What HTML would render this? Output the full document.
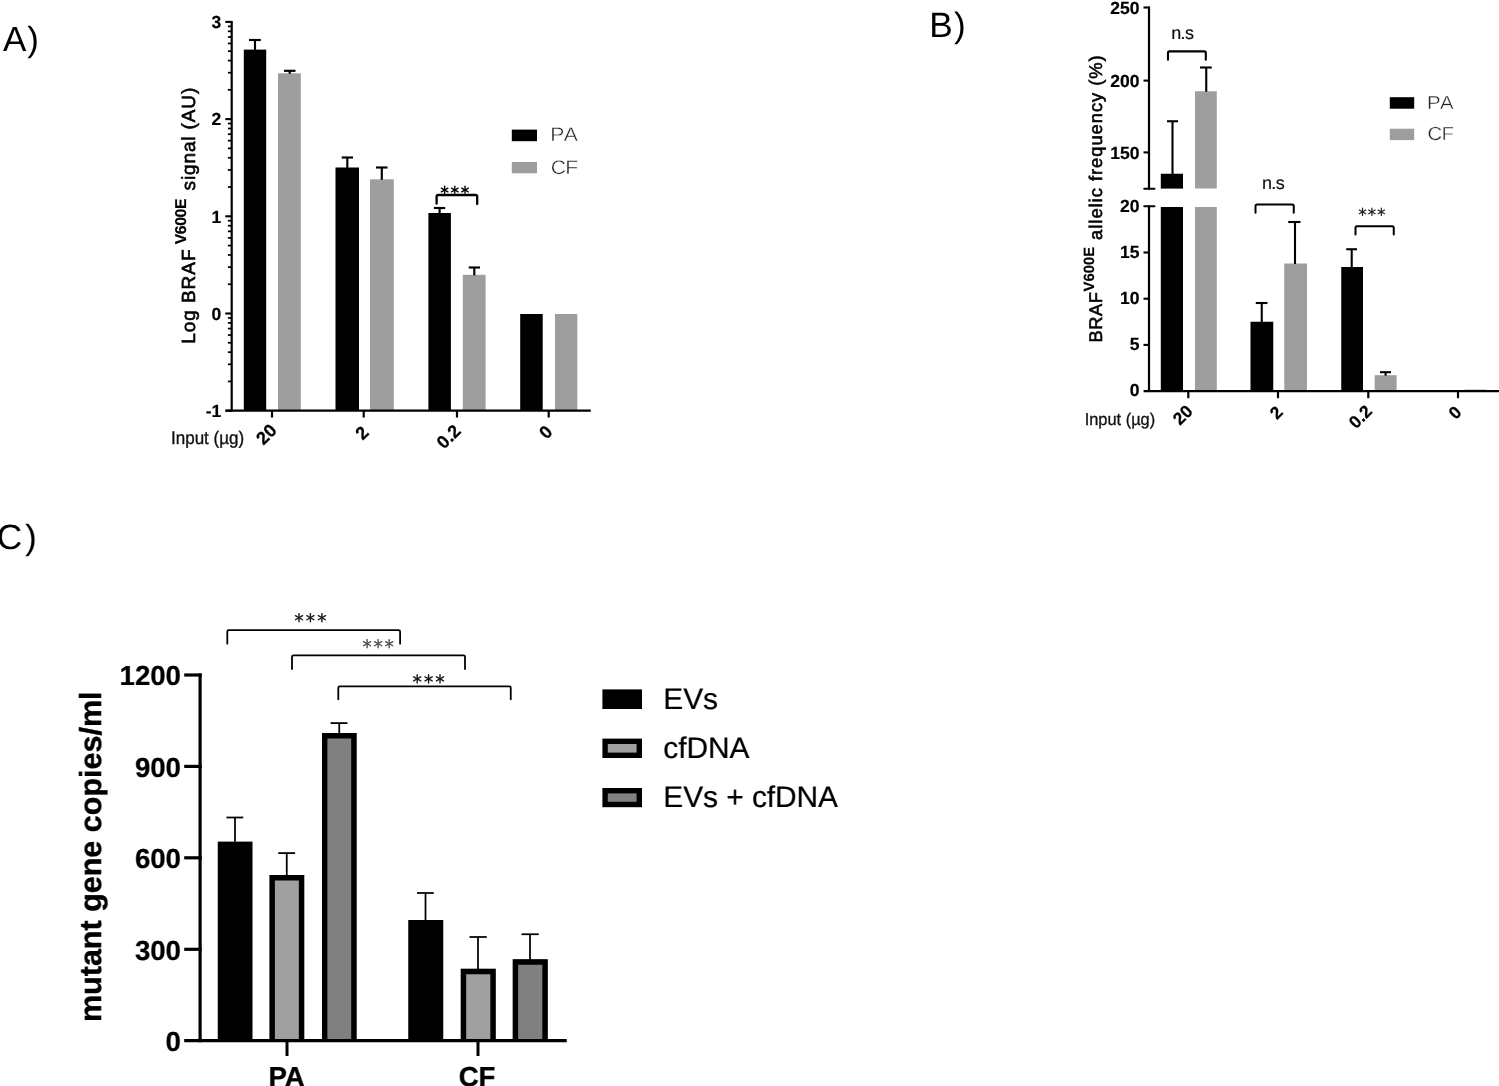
<!DOCTYPE html>
<html lang="en"><head><meta charset="utf-8"><title>Figure</title>
<style>html,body{margin:0;padding:0;background:#fff;}body{width:1499px;height:1086px;overflow:hidden;}svg{display:block;filter:grayscale(1);}text{white-space:pre;text-rendering:geometricPrecision;}</style>
</head><body>
<svg width="1499" height="1086" viewBox="0 0 1499 1086">
<rect x="0" y="0" width="1499" height="1086" fill="#fff"/>
<g id="panelA" style="filter:blur(0.62px)">
<text x="3.00" y="51.40" font-family='"Liberation Sans", sans-serif' font-size="35" font-weight="normal" text-anchor="start" fill="#000" letter-spacing="1.0">A)</text>
<rect x="243.80" y="49.60" width="22.40" height="361.10" fill="#000"/>
<rect x="278.00" y="73.30" width="22.80" height="337.40" fill="#9e9e9e"/>
<rect x="335.50" y="167.50" width="23.50" height="243.20" fill="#000"/>
<rect x="370.00" y="179.30" width="23.80" height="231.40" fill="#9e9e9e"/>
<rect x="428.40" y="213.00" width="22.50" height="197.70" fill="#000"/>
<rect x="462.80" y="274.80" width="22.80" height="135.90" fill="#9e9e9e"/>
<rect x="520.20" y="314.00" width="22.50" height="96.70" fill="#000"/>
<rect x="555.00" y="314.00" width="22.30" height="96.70" fill="#9e9e9e"/>
<line x1="255.00" y1="40.00" x2="255.00" y2="50.10" stroke="#000" stroke-width="2.15" stroke-linecap="butt"/>
<line x1="249.00" y1="40.00" x2="260.80" y2="40.00" stroke="#000" stroke-width="2.15" stroke-linecap="butt"/>
<line x1="289.70" y1="70.80" x2="289.70" y2="73.80" stroke="#000" stroke-width="2.15" stroke-linecap="butt"/>
<line x1="284.00" y1="70.80" x2="295.50" y2="70.80" stroke="#000" stroke-width="2.15" stroke-linecap="butt"/>
<line x1="347.30" y1="157.50" x2="347.30" y2="168.00" stroke="#000" stroke-width="2.15" stroke-linecap="butt"/>
<line x1="341.70" y1="157.50" x2="353.00" y2="157.50" stroke="#000" stroke-width="2.15" stroke-linecap="butt"/>
<line x1="381.80" y1="167.50" x2="381.80" y2="179.80" stroke="#000" stroke-width="2.15" stroke-linecap="butt"/>
<line x1="376.00" y1="167.50" x2="387.50" y2="167.50" stroke="#000" stroke-width="2.15" stroke-linecap="butt"/>
<line x1="439.60" y1="208.00" x2="439.60" y2="213.50" stroke="#000" stroke-width="2.15" stroke-linecap="butt"/>
<line x1="433.90" y1="208.00" x2="445.20" y2="208.00" stroke="#000" stroke-width="2.15" stroke-linecap="butt"/>
<line x1="474.30" y1="267.50" x2="474.30" y2="275.30" stroke="#000" stroke-width="2.15" stroke-linecap="butt"/>
<line x1="468.70" y1="267.50" x2="480.00" y2="267.50" stroke="#000" stroke-width="2.15" stroke-linecap="butt"/>
<line x1="231.70" y1="20.90" x2="231.70" y2="411.80" stroke="#000" stroke-width="2.2" stroke-linecap="butt"/>
<line x1="225.60" y1="410.70" x2="590.80" y2="410.70" stroke="#000" stroke-width="2.3" stroke-linecap="butt"/>
<line x1="225.30" y1="21.90" x2="231.70" y2="21.90" stroke="#000" stroke-width="2.1" stroke-linecap="butt"/>
<line x1="227.90" y1="89.84" x2="231.70" y2="89.84" stroke="#000" stroke-width="1.75" stroke-linecap="butt"/>
<line x1="227.90" y1="72.72" x2="231.70" y2="72.72" stroke="#000" stroke-width="1.75" stroke-linecap="butt"/>
<line x1="227.90" y1="60.58" x2="231.70" y2="60.58" stroke="#000" stroke-width="1.75" stroke-linecap="butt"/>
<line x1="227.90" y1="51.16" x2="231.70" y2="51.16" stroke="#000" stroke-width="1.75" stroke-linecap="butt"/>
<line x1="227.90" y1="43.46" x2="231.70" y2="43.46" stroke="#000" stroke-width="1.75" stroke-linecap="butt"/>
<line x1="227.90" y1="36.96" x2="231.70" y2="36.96" stroke="#000" stroke-width="1.75" stroke-linecap="butt"/>
<line x1="227.90" y1="31.32" x2="231.70" y2="31.32" stroke="#000" stroke-width="1.75" stroke-linecap="butt"/>
<line x1="227.90" y1="26.35" x2="231.70" y2="26.35" stroke="#000" stroke-width="1.75" stroke-linecap="butt"/>
<line x1="225.30" y1="119.10" x2="231.70" y2="119.10" stroke="#000" stroke-width="2.1" stroke-linecap="butt"/>
<line x1="227.90" y1="187.04" x2="231.70" y2="187.04" stroke="#000" stroke-width="1.75" stroke-linecap="butt"/>
<line x1="227.90" y1="169.92" x2="231.70" y2="169.92" stroke="#000" stroke-width="1.75" stroke-linecap="butt"/>
<line x1="227.90" y1="157.78" x2="231.70" y2="157.78" stroke="#000" stroke-width="1.75" stroke-linecap="butt"/>
<line x1="227.90" y1="148.36" x2="231.70" y2="148.36" stroke="#000" stroke-width="1.75" stroke-linecap="butt"/>
<line x1="227.90" y1="140.66" x2="231.70" y2="140.66" stroke="#000" stroke-width="1.75" stroke-linecap="butt"/>
<line x1="227.90" y1="134.16" x2="231.70" y2="134.16" stroke="#000" stroke-width="1.75" stroke-linecap="butt"/>
<line x1="227.90" y1="128.52" x2="231.70" y2="128.52" stroke="#000" stroke-width="1.75" stroke-linecap="butt"/>
<line x1="227.90" y1="123.55" x2="231.70" y2="123.55" stroke="#000" stroke-width="1.75" stroke-linecap="butt"/>
<line x1="225.30" y1="216.30" x2="231.70" y2="216.30" stroke="#000" stroke-width="2.1" stroke-linecap="butt"/>
<line x1="227.90" y1="284.24" x2="231.70" y2="284.24" stroke="#000" stroke-width="1.75" stroke-linecap="butt"/>
<line x1="227.90" y1="267.12" x2="231.70" y2="267.12" stroke="#000" stroke-width="1.75" stroke-linecap="butt"/>
<line x1="227.90" y1="254.98" x2="231.70" y2="254.98" stroke="#000" stroke-width="1.75" stroke-linecap="butt"/>
<line x1="227.90" y1="245.56" x2="231.70" y2="245.56" stroke="#000" stroke-width="1.75" stroke-linecap="butt"/>
<line x1="227.90" y1="237.86" x2="231.70" y2="237.86" stroke="#000" stroke-width="1.75" stroke-linecap="butt"/>
<line x1="227.90" y1="231.36" x2="231.70" y2="231.36" stroke="#000" stroke-width="1.75" stroke-linecap="butt"/>
<line x1="227.90" y1="225.72" x2="231.70" y2="225.72" stroke="#000" stroke-width="1.75" stroke-linecap="butt"/>
<line x1="227.90" y1="220.75" x2="231.70" y2="220.75" stroke="#000" stroke-width="1.75" stroke-linecap="butt"/>
<line x1="225.30" y1="313.50" x2="231.70" y2="313.50" stroke="#000" stroke-width="2.1" stroke-linecap="butt"/>
<line x1="227.90" y1="381.44" x2="231.70" y2="381.44" stroke="#000" stroke-width="1.75" stroke-linecap="butt"/>
<line x1="227.90" y1="364.32" x2="231.70" y2="364.32" stroke="#000" stroke-width="1.75" stroke-linecap="butt"/>
<line x1="227.90" y1="352.18" x2="231.70" y2="352.18" stroke="#000" stroke-width="1.75" stroke-linecap="butt"/>
<line x1="227.90" y1="342.76" x2="231.70" y2="342.76" stroke="#000" stroke-width="1.75" stroke-linecap="butt"/>
<line x1="227.90" y1="335.06" x2="231.70" y2="335.06" stroke="#000" stroke-width="1.75" stroke-linecap="butt"/>
<line x1="227.90" y1="328.56" x2="231.70" y2="328.56" stroke="#000" stroke-width="1.75" stroke-linecap="butt"/>
<line x1="227.90" y1="322.92" x2="231.70" y2="322.92" stroke="#000" stroke-width="1.75" stroke-linecap="butt"/>
<line x1="227.90" y1="317.95" x2="231.70" y2="317.95" stroke="#000" stroke-width="1.75" stroke-linecap="butt"/>
<line x1="225.30" y1="410.70" x2="231.70" y2="410.70" stroke="#000" stroke-width="2.1" stroke-linecap="butt"/>
<text x="221.30" y="28.20" font-family='"Liberation Sans", sans-serif' font-size="17.5" font-weight="bold" text-anchor="end" fill="#000" stroke="#000" stroke-width="0.2">3</text>
<text x="221.30" y="125.40" font-family='"Liberation Sans", sans-serif' font-size="17.5" font-weight="bold" text-anchor="end" fill="#000" stroke="#000" stroke-width="0.2">2</text>
<text x="221.30" y="222.60" font-family='"Liberation Sans", sans-serif' font-size="17.5" font-weight="bold" text-anchor="end" fill="#000" stroke="#000" stroke-width="0.2">1</text>
<text x="221.30" y="319.80" font-family='"Liberation Sans", sans-serif' font-size="17.5" font-weight="bold" text-anchor="end" fill="#000" stroke="#000" stroke-width="0.2">0</text>
<text x="221.30" y="417.00" font-family='"Liberation Sans", sans-serif' font-size="17.5" font-weight="bold" text-anchor="end" fill="#000" stroke="#000" stroke-width="0.2">-1</text>
<line x1="272.00" y1="410.70" x2="272.00" y2="417.50" stroke="#000" stroke-width="2.2" stroke-linecap="butt"/>
<line x1="363.70" y1="410.70" x2="363.70" y2="417.50" stroke="#000" stroke-width="2.2" stroke-linecap="butt"/>
<line x1="457.00" y1="410.70" x2="457.00" y2="417.50" stroke="#000" stroke-width="2.2" stroke-linecap="butt"/>
<line x1="548.70" y1="410.70" x2="548.70" y2="417.50" stroke="#000" stroke-width="2.2" stroke-linecap="butt"/>
<text transform="translate(266.10,434.00) rotate(-45)" x="0" y="6.45" font-family='"Liberation Sans", sans-serif' font-size="18" font-weight="bold" text-anchor="middle" fill="#000" stroke="#000" stroke-width="0.3">20</text>
<text transform="translate(361.60,432.70) rotate(-45)" x="0" y="6.45" font-family='"Liberation Sans", sans-serif' font-size="18" font-weight="bold" text-anchor="middle" fill="#000" stroke="#000" stroke-width="0.3">2</text>
<text transform="translate(448.35,436.40) rotate(-45)" x="0" y="6.45" font-family='"Liberation Sans", sans-serif' font-size="18" font-weight="bold" text-anchor="middle" fill="#000" stroke="#000" stroke-width="0.3">0.2</text>
<text transform="translate(545.40,431.95) rotate(-45)" x="0" y="6.45" font-family='"Liberation Sans", sans-serif' font-size="18" font-weight="bold" text-anchor="middle" fill="#000" stroke="#000" stroke-width="0.3">0</text>
<g transform="translate(171.0,443.6) scale(1,1.07)">
<text x="0.00" y="0.00" font-family='"Liberation Sans", sans-serif' font-size="17" font-weight="normal" text-anchor="start" fill="#111" stroke="#111" stroke-width="0.35">Input (µg)</text>
</g>
<text transform="translate(195.00,343.80) rotate(-90)" x="0" y="0.00" font-family='"Liberation Sans", sans-serif' font-size="19" font-weight="normal" text-anchor="start" fill="#000" stroke="#000" stroke-width="0.6" letter-spacing="0.95">Log BRAF</text>
<text transform="translate(186.30,244.30) rotate(-90)" x="0" y="0.00" font-family='"Liberation Sans", sans-serif' font-size="15.7" font-weight="bold" text-anchor="start" fill="#000" letter-spacing="-0.35" stroke="#000" stroke-width="0.2">V600E</text>
<text transform="translate(195.00,190.40) rotate(-90)" x="0" y="0.00" font-family='"Liberation Sans", sans-serif' font-size="19" font-weight="normal" text-anchor="start" fill="#000" stroke="#000" stroke-width="0.6" letter-spacing="0.87">signal (AU)</text>
<path d="M436.60,203.68 V196.60 Q436.60,195.00 438.20,195.00 H475.60 Q477.20,195.00 477.20,196.60 V204.08" fill="none" stroke="#000" stroke-width="2.3" stroke-linecap="round" stroke-linejoin="round"/>
<line x1="444.60" y1="186.20" x2="444.60" y2="193.80" stroke="#000" stroke-width="1.3" stroke-linecap="round"/>
<line x1="441.31" y1="188.10" x2="447.89" y2="191.90" stroke="#000" stroke-width="1.3" stroke-linecap="round"/>
<line x1="447.89" y1="188.10" x2="441.31" y2="191.90" stroke="#000" stroke-width="1.3" stroke-linecap="round"/>
<line x1="454.80" y1="186.20" x2="454.80" y2="193.80" stroke="#000" stroke-width="1.3" stroke-linecap="round"/>
<line x1="451.51" y1="188.10" x2="458.09" y2="191.90" stroke="#000" stroke-width="1.3" stroke-linecap="round"/>
<line x1="458.09" y1="188.10" x2="451.51" y2="191.90" stroke="#000" stroke-width="1.3" stroke-linecap="round"/>
<line x1="465.00" y1="186.20" x2="465.00" y2="193.80" stroke="#000" stroke-width="1.3" stroke-linecap="round"/>
<line x1="461.71" y1="188.10" x2="468.29" y2="191.90" stroke="#000" stroke-width="1.3" stroke-linecap="round"/>
<line x1="468.29" y1="188.10" x2="461.71" y2="191.90" stroke="#000" stroke-width="1.3" stroke-linecap="round"/>
<rect x="511.80" y="129.60" width="25.20" height="11.60" fill="#000"/>
<rect x="511.80" y="162.00" width="25.20" height="11.30" fill="#9e9e9e"/>
<g transform="translate(550.3,141.3) scale(1.08,1)">
<text x="0.00" y="0.00" font-family='"Liberation Sans", sans-serif' font-size="19.6" font-weight="normal" text-anchor="start" fill="#222" style="font-kerning:none" letter-spacing="-0.6" stroke="#fff" stroke-width="0.4">PA</text>
</g>
<g transform="translate(550.85,173.6) scale(1.08,1)">
<text x="0.00" y="0.00" font-family='"Liberation Sans", sans-serif' font-size="19.6" font-weight="normal" text-anchor="start" fill="#222" letter-spacing="-0.8" stroke="#fff" stroke-width="0.4">CF</text>
</g>
</g>
<g id="panelB" style="filter:blur(0.62px)">
<text x="929.20" y="36.50" font-family='"Liberation Sans", sans-serif' font-size="35.2" font-weight="normal" text-anchor="start" fill="#000" letter-spacing="1.3">B)</text>
<rect x="1160.80" y="173.75" width="22.20" height="14.85" fill="#000"/>
<rect x="1160.80" y="207.00" width="22.20" height="184.10" fill="#000"/>
<rect x="1195.00" y="91.25" width="21.80" height="97.25" fill="#9e9e9e"/>
<rect x="1195.00" y="207.00" width="21.80" height="184.10" fill="#9e9e9e"/>
<rect x="1250.50" y="321.75" width="22.75" height="69.35" fill="#000"/>
<rect x="1284.25" y="263.50" width="22.75" height="127.60" fill="#9e9e9e"/>
<rect x="1341.25" y="267.00" width="21.75" height="124.10" fill="#000"/>
<rect x="1374.70" y="375.20" width="21.90" height="15.90" fill="#9e9e9e"/>
<rect x="1464.70" y="389.40" width="21.30" height="1.00" fill="#b8b8b8"/>
<line x1="1172.50" y1="121.25" x2="1172.50" y2="174.25" stroke="#000" stroke-width="2.1" stroke-linecap="butt"/>
<line x1="1167.00" y1="121.25" x2="1178.00" y2="121.25" stroke="#000" stroke-width="2.1" stroke-linecap="butt"/>
<line x1="1206.25" y1="67.50" x2="1206.25" y2="91.75" stroke="#000" stroke-width="2.1" stroke-linecap="butt"/>
<line x1="1200.00" y1="67.50" x2="1211.75" y2="67.50" stroke="#000" stroke-width="2.1" stroke-linecap="butt"/>
<line x1="1261.75" y1="303.00" x2="1261.75" y2="322.25" stroke="#000" stroke-width="2.1" stroke-linecap="butt"/>
<line x1="1255.75" y1="303.00" x2="1267.50" y2="303.00" stroke="#000" stroke-width="2.1" stroke-linecap="butt"/>
<line x1="1295.00" y1="222.00" x2="1295.00" y2="264.00" stroke="#000" stroke-width="2.1" stroke-linecap="butt"/>
<line x1="1288.25" y1="222.00" x2="1300.50" y2="222.00" stroke="#000" stroke-width="2.1" stroke-linecap="butt"/>
<line x1="1351.70" y1="249.25" x2="1351.70" y2="267.50" stroke="#000" stroke-width="2.1" stroke-linecap="butt"/>
<line x1="1346.25" y1="249.25" x2="1357.00" y2="249.25" stroke="#000" stroke-width="2.1" stroke-linecap="butt"/>
<line x1="1385.60" y1="372.20" x2="1385.60" y2="375.70" stroke="#000" stroke-width="2.1" stroke-linecap="butt"/>
<line x1="1380.00" y1="372.20" x2="1391.00" y2="372.20" stroke="#000" stroke-width="2.1" stroke-linecap="butt"/>
<line x1="1149.00" y1="6.50" x2="1149.00" y2="189.60" stroke="#000" stroke-width="2.2" stroke-linecap="butt"/>
<line x1="1149.00" y1="205.40" x2="1149.00" y2="392.10" stroke="#000" stroke-width="2.2" stroke-linecap="butt"/>
<line x1="1144.30" y1="188.70" x2="1154.40" y2="188.70" stroke="#000" stroke-width="2.1" stroke-linecap="round"/>
<line x1="1144.30" y1="206.30" x2="1154.40" y2="206.30" stroke="#000" stroke-width="2.1" stroke-linecap="round"/>
<line x1="1143.60" y1="391.10" x2="1499.00" y2="391.10" stroke="#000" stroke-width="2.3" stroke-linecap="butt"/>
<line x1="1143.50" y1="7.50" x2="1149.00" y2="7.50" stroke="#000" stroke-width="2.1" stroke-linecap="butt"/>
<line x1="1143.50" y1="80.60" x2="1149.00" y2="80.60" stroke="#000" stroke-width="2.1" stroke-linecap="butt"/>
<line x1="1143.50" y1="152.40" x2="1149.00" y2="152.40" stroke="#000" stroke-width="2.1" stroke-linecap="butt"/>
<line x1="1143.50" y1="252.50" x2="1149.00" y2="252.50" stroke="#000" stroke-width="2.1" stroke-linecap="butt"/>
<line x1="1143.50" y1="298.70" x2="1149.00" y2="298.70" stroke="#000" stroke-width="2.1" stroke-linecap="butt"/>
<line x1="1143.50" y1="344.90" x2="1149.00" y2="344.90" stroke="#000" stroke-width="2.1" stroke-linecap="butt"/>
<text x="1139.50" y="13.70" font-family='"Liberation Sans", sans-serif' font-size="17.5" font-weight="bold" text-anchor="end" fill="#000" stroke="#000" stroke-width="0.2">250</text>
<text x="1139.50" y="86.80" font-family='"Liberation Sans", sans-serif' font-size="17.5" font-weight="bold" text-anchor="end" fill="#000" stroke="#000" stroke-width="0.2">200</text>
<text x="1139.50" y="158.60" font-family='"Liberation Sans", sans-serif' font-size="17.5" font-weight="bold" text-anchor="end" fill="#000" stroke="#000" stroke-width="0.2">150</text>
<text x="1139.50" y="211.50" font-family='"Liberation Sans", sans-serif' font-size="17.5" font-weight="bold" text-anchor="end" fill="#000" stroke="#000" stroke-width="0.2">20</text>
<text x="1139.50" y="257.70" font-family='"Liberation Sans", sans-serif' font-size="17.5" font-weight="bold" text-anchor="end" fill="#000" stroke="#000" stroke-width="0.2">15</text>
<text x="1139.50" y="303.90" font-family='"Liberation Sans", sans-serif' font-size="17.5" font-weight="bold" text-anchor="end" fill="#000" stroke="#000" stroke-width="0.2">10</text>
<text x="1139.50" y="350.10" font-family='"Liberation Sans", sans-serif' font-size="17.5" font-weight="bold" text-anchor="end" fill="#000" stroke="#000" stroke-width="0.2">5</text>
<text x="1139.50" y="396.30" font-family='"Liberation Sans", sans-serif' font-size="17.5" font-weight="bold" text-anchor="end" fill="#000" stroke="#000" stroke-width="0.2">0</text>
<line x1="1188.30" y1="391.10" x2="1188.30" y2="398.20" stroke="#000" stroke-width="2.2" stroke-linecap="butt"/>
<line x1="1278.00" y1="391.10" x2="1278.00" y2="398.20" stroke="#000" stroke-width="2.2" stroke-linecap="butt"/>
<line x1="1368.30" y1="391.10" x2="1368.30" y2="398.20" stroke="#000" stroke-width="2.2" stroke-linecap="butt"/>
<line x1="1458.00" y1="391.10" x2="1458.00" y2="398.20" stroke="#000" stroke-width="2.2" stroke-linecap="butt"/>
<text transform="translate(1182.55,414.75) rotate(-45)" x="0" y="6.25" font-family='"Liberation Sans", sans-serif' font-size="17.5" font-weight="bold" text-anchor="middle" fill="#000" stroke="#000" stroke-width="0.25">20</text>
<text transform="translate(1276.00,412.35) rotate(-45)" x="0" y="6.25" font-family='"Liberation Sans", sans-serif' font-size="17.5" font-weight="bold" text-anchor="middle" fill="#000" stroke="#000" stroke-width="0.25">2</text>
<text transform="translate(1360.10,416.50) rotate(-45)" x="0" y="6.25" font-family='"Liberation Sans", sans-serif' font-size="17.5" font-weight="bold" text-anchor="middle" fill="#000" stroke="#000" stroke-width="0.25">0.2</text>
<text transform="translate(1454.80,412.40) rotate(-45)" x="0" y="6.25" font-family='"Liberation Sans", sans-serif' font-size="17.5" font-weight="bold" text-anchor="middle" fill="#000" stroke="#000" stroke-width="0.25">0</text>
<g transform="translate(1084.7,424.6) scale(1,1.04)">
<text x="0.00" y="0.00" font-family='"Liberation Sans", sans-serif' font-size="16.4" font-weight="normal" text-anchor="start" fill="#111" stroke="#111" stroke-width="0.3">Input (µg)</text>
</g>
<text transform="translate(1101.60,342.60) rotate(-90)" x="0" y="0.00" font-family='"Liberation Sans", sans-serif' font-size="18.3" font-weight="normal" text-anchor="start" fill="#000" stroke="#000" stroke-width="0.6" letter-spacing="0.6">BRAF</text>
<text transform="translate(1094.00,291.40) rotate(-90)" x="0" y="0.00" font-family='"Liberation Sans", sans-serif' font-size="14.8" font-weight="bold" text-anchor="start" fill="#000" stroke="#000" stroke-width="0.2">V600E</text>
<text transform="translate(1101.60,239.90) rotate(-90)" x="0" y="0.00" font-family='"Liberation Sans", sans-serif' font-size="18.3" font-weight="normal" text-anchor="start" fill="#000" stroke="#000" stroke-width="0.6" letter-spacing="1.0">allelic frequency (%)</text>
<path d="M1168.00,59.66 V52.90 Q1168.00,51.40 1169.50,51.40 H1204.30 Q1205.80,51.40 1205.80,52.90 V59.66" fill="none" stroke="#000" stroke-width="2.1" stroke-linecap="round" stroke-linejoin="round"/>
<path d="M1255.50,212.80 V206.00 Q1255.50,204.50 1257.00,204.50 H1292.25 Q1293.75,204.50 1293.75,206.00 V212.80" fill="none" stroke="#000" stroke-width="2.0" stroke-linecap="round" stroke-linejoin="round"/>
<path d="M1355.50,234.60 V227.75 Q1355.50,226.25 1357.00,226.25 H1392.25 Q1393.75,226.25 1393.75,227.75 V234.60" fill="none" stroke="#000" stroke-width="2.0" stroke-linecap="round" stroke-linejoin="round"/>
<text x="1171.20" y="39.30" font-family='"Liberation Sans", sans-serif' font-size="18" font-weight="normal" text-anchor="start" fill="#111" letter-spacing="-0.6" stroke="#111" stroke-width="0.2">n.s</text>
<text x="1261.90" y="189.30" font-family='"Liberation Sans", sans-serif' font-size="18" font-weight="normal" text-anchor="start" fill="#111" letter-spacing="-0.6" stroke="#111" stroke-width="0.2">n.s</text>
<line x1="1362.50" y1="208.10" x2="1362.50" y2="215.50" stroke="#222" stroke-width="1.2" stroke-linecap="round"/>
<line x1="1359.30" y1="209.95" x2="1365.70" y2="213.65" stroke="#222" stroke-width="1.2" stroke-linecap="round"/>
<line x1="1365.70" y1="209.95" x2="1359.30" y2="213.65" stroke="#222" stroke-width="1.2" stroke-linecap="round"/>
<line x1="1371.90" y1="208.10" x2="1371.90" y2="215.50" stroke="#222" stroke-width="1.2" stroke-linecap="round"/>
<line x1="1368.70" y1="209.95" x2="1375.10" y2="213.65" stroke="#222" stroke-width="1.2" stroke-linecap="round"/>
<line x1="1375.10" y1="209.95" x2="1368.70" y2="213.65" stroke="#222" stroke-width="1.2" stroke-linecap="round"/>
<line x1="1381.30" y1="208.10" x2="1381.30" y2="215.50" stroke="#222" stroke-width="1.2" stroke-linecap="round"/>
<line x1="1378.10" y1="209.95" x2="1384.50" y2="213.65" stroke="#222" stroke-width="1.2" stroke-linecap="round"/>
<line x1="1384.50" y1="209.95" x2="1378.10" y2="213.65" stroke="#222" stroke-width="1.2" stroke-linecap="round"/>
<rect x="1389.80" y="97.20" width="24.40" height="11.50" fill="#000"/>
<rect x="1389.80" y="128.70" width="24.40" height="11.40" fill="#9e9e9e"/>
<g transform="translate(1427.05,108.8) scale(1.08,1)">
<text x="0.00" y="0.00" font-family='"Liberation Sans", sans-serif' font-size="18.9" font-weight="normal" text-anchor="start" fill="#222" style="font-kerning:none" letter-spacing="-0.6" stroke="#fff" stroke-width="0.4">PA</text>
</g>
<g transform="translate(1427.6,140.2) scale(1.08,1)">
<text x="0.00" y="0.00" font-family='"Liberation Sans", sans-serif' font-size="18.9" font-weight="normal" text-anchor="start" fill="#222" letter-spacing="-0.8" stroke="#fff" stroke-width="0.4">CF</text>
</g>
</g>
<g id="panelC">
<text x="-3.20" y="548.90" font-family='"Liberation Sans", sans-serif' font-size="35" font-weight="normal" text-anchor="start" fill="#000" letter-spacing="2.9">C)</text>
<rect x="217.75" y="841.60" width="34.75" height="199.10" fill="#000"/>
<rect x="269.50" y="875.00" width="34.75" height="165.70" fill="#a0a0a0"/>
<path d="M272.20,1040.70 V877.70 H301.55 V1040.70" fill="none" stroke="#000" stroke-width="5.4" stroke-linejoin="miter"/>
<rect x="322.00" y="733.00" width="34.60" height="307.70" fill="#808080"/>
<path d="M324.70,1040.70 V735.70 H353.90 V1040.70" fill="none" stroke="#000" stroke-width="5.4" stroke-linejoin="miter"/>
<rect x="408.25" y="920.00" width="35.00" height="120.70" fill="#000"/>
<rect x="460.75" y="968.75" width="35.00" height="71.95" fill="#a0a0a0"/>
<path d="M463.45,1040.70 V971.45 H493.05 V1040.70" fill="none" stroke="#000" stroke-width="5.4" stroke-linejoin="miter"/>
<rect x="512.75" y="959.25" width="35.00" height="81.45" fill="#808080"/>
<path d="M515.45,1040.70 V961.95 H545.05 V1040.70" fill="none" stroke="#000" stroke-width="5.4" stroke-linejoin="miter"/>
<line x1="235.00" y1="817.50" x2="235.00" y2="841.75" stroke="#000" stroke-width="1.75" stroke-linecap="butt"/>
<line x1="226.50" y1="817.50" x2="243.25" y2="817.50" stroke="#000" stroke-width="1.75" stroke-linecap="butt"/>
<line x1="286.75" y1="853.10" x2="286.75" y2="875.50" stroke="#000" stroke-width="1.75" stroke-linecap="butt"/>
<line x1="278.25" y1="853.10" x2="295.10" y2="853.10" stroke="#000" stroke-width="1.75" stroke-linecap="butt"/>
<line x1="339.25" y1="723.10" x2="339.25" y2="733.50" stroke="#000" stroke-width="1.75" stroke-linecap="butt"/>
<line x1="330.60" y1="723.10" x2="347.50" y2="723.10" stroke="#000" stroke-width="1.75" stroke-linecap="butt"/>
<line x1="425.50" y1="893.00" x2="425.50" y2="920.50" stroke="#000" stroke-width="1.75" stroke-linecap="butt"/>
<line x1="417.00" y1="893.00" x2="433.75" y2="893.00" stroke="#000" stroke-width="1.75" stroke-linecap="butt"/>
<line x1="478.00" y1="937.00" x2="478.00" y2="969.25" stroke="#000" stroke-width="1.75" stroke-linecap="butt"/>
<line x1="469.50" y1="937.00" x2="486.75" y2="937.00" stroke="#000" stroke-width="1.75" stroke-linecap="butt"/>
<line x1="530.00" y1="934.25" x2="530.00" y2="959.75" stroke="#000" stroke-width="1.75" stroke-linecap="butt"/>
<line x1="521.50" y1="934.25" x2="538.75" y2="934.25" stroke="#000" stroke-width="1.75" stroke-linecap="butt"/>
<line x1="200.10" y1="673.40" x2="200.10" y2="1042.30" stroke="#000" stroke-width="3.2" stroke-linecap="butt"/>
<line x1="184.20" y1="1040.70" x2="566.75" y2="1040.70" stroke="#000" stroke-width="3.2" stroke-linecap="butt"/>
<line x1="184.20" y1="675.00" x2="201.70" y2="675.00" stroke="#000" stroke-width="3.2" stroke-linecap="butt"/>
<line x1="184.20" y1="766.40" x2="201.70" y2="766.40" stroke="#000" stroke-width="3.2" stroke-linecap="butt"/>
<line x1="184.20" y1="857.80" x2="201.70" y2="857.80" stroke="#000" stroke-width="3.2" stroke-linecap="butt"/>
<line x1="184.20" y1="949.30" x2="201.70" y2="949.30" stroke="#000" stroke-width="3.2" stroke-linecap="butt"/>
<text x="180.80" y="685.20" font-family='"Liberation Sans", sans-serif' font-size="27.5" font-weight="bold" text-anchor="end" fill="#000" stroke="#000" stroke-width="0.2">1200</text>
<text x="180.80" y="776.60" font-family='"Liberation Sans", sans-serif' font-size="27.5" font-weight="bold" text-anchor="end" fill="#000" stroke="#000" stroke-width="0.2">900</text>
<text x="180.80" y="868.00" font-family='"Liberation Sans", sans-serif' font-size="27.5" font-weight="bold" text-anchor="end" fill="#000" stroke="#000" stroke-width="0.2">600</text>
<text x="180.80" y="959.50" font-family='"Liberation Sans", sans-serif' font-size="27.5" font-weight="bold" text-anchor="end" fill="#000" stroke="#000" stroke-width="0.2">300</text>
<text x="180.80" y="1050.90" font-family='"Liberation Sans", sans-serif' font-size="27.5" font-weight="bold" text-anchor="end" fill="#000" stroke="#000" stroke-width="0.2">0</text>
<line x1="287.00" y1="1040.70" x2="287.00" y2="1056.00" stroke="#000" stroke-width="3.0" stroke-linecap="butt"/>
<line x1="478.00" y1="1040.70" x2="478.00" y2="1056.00" stroke="#000" stroke-width="3.0" stroke-linecap="butt"/>
<text x="286.60" y="1085.70" font-family='"Liberation Sans", sans-serif' font-size="27.5" font-weight="bold" text-anchor="middle" fill="#000" stroke="#000" stroke-width="0.3">PA</text>
<text x="477.00" y="1085.70" font-family='"Liberation Sans", sans-serif' font-size="27.5" font-weight="bold" text-anchor="middle" fill="#000" stroke="#000" stroke-width="0.3">CF</text>
<text transform="translate(100.90,1022.00) rotate(-90)" x="0" y="0.00" font-family='"Liberation Sans", sans-serif' font-size="30.5" font-weight="bold" text-anchor="start" fill="#000" stroke="#000" stroke-width="0.35">mutant gene copies/ml</text>
<path d="M227.30,643.68 V631.70 Q227.30,630.20 228.80,630.20 H398.60 Q400.10,630.20 400.10,631.70 V643.68" fill="none" stroke="#000" stroke-width="1.8" stroke-linecap="round" stroke-linejoin="round"/>
<path d="M292.00,668.98 V656.90 Q292.00,655.40 293.50,655.40 H463.50 Q465.00,655.40 465.00,656.90 V668.98" fill="none" stroke="#000" stroke-width="1.8" stroke-linecap="round" stroke-linejoin="round"/>
<path d="M338.30,699.28 V687.80 Q338.30,686.30 339.80,686.30 H509.25 Q510.75,686.30 510.75,687.80 V699.28" fill="none" stroke="#000" stroke-width="1.8" stroke-linecap="round" stroke-linejoin="round"/>
<line x1="299.00" y1="613.60" x2="299.00" y2="621.80" stroke="#1a1a1a" stroke-width="1.4" stroke-linecap="round"/>
<line x1="295.45" y1="615.65" x2="302.55" y2="619.75" stroke="#1a1a1a" stroke-width="1.4" stroke-linecap="round"/>
<line x1="302.55" y1="615.65" x2="295.45" y2="619.75" stroke="#1a1a1a" stroke-width="1.4" stroke-linecap="round"/>
<line x1="310.40" y1="613.60" x2="310.40" y2="621.80" stroke="#1a1a1a" stroke-width="1.4" stroke-linecap="round"/>
<line x1="306.85" y1="615.65" x2="313.95" y2="619.75" stroke="#1a1a1a" stroke-width="1.4" stroke-linecap="round"/>
<line x1="313.95" y1="615.65" x2="306.85" y2="619.75" stroke="#1a1a1a" stroke-width="1.4" stroke-linecap="round"/>
<line x1="321.90" y1="613.60" x2="321.90" y2="621.80" stroke="#1a1a1a" stroke-width="1.4" stroke-linecap="round"/>
<line x1="318.35" y1="615.65" x2="325.45" y2="619.75" stroke="#1a1a1a" stroke-width="1.4" stroke-linecap="round"/>
<line x1="325.45" y1="615.65" x2="318.35" y2="619.75" stroke="#1a1a1a" stroke-width="1.4" stroke-linecap="round"/>
<line x1="367.10" y1="639.60" x2="367.10" y2="647.80" stroke="#505050" stroke-width="1.4" stroke-linecap="round"/>
<line x1="363.55" y1="641.65" x2="370.65" y2="645.75" stroke="#505050" stroke-width="1.4" stroke-linecap="round"/>
<line x1="370.65" y1="641.65" x2="363.55" y2="645.75" stroke="#505050" stroke-width="1.4" stroke-linecap="round"/>
<line x1="378.10" y1="639.60" x2="378.10" y2="647.80" stroke="#505050" stroke-width="1.4" stroke-linecap="round"/>
<line x1="374.55" y1="641.65" x2="381.65" y2="645.75" stroke="#505050" stroke-width="1.4" stroke-linecap="round"/>
<line x1="381.65" y1="641.65" x2="374.55" y2="645.75" stroke="#505050" stroke-width="1.4" stroke-linecap="round"/>
<line x1="389.20" y1="639.60" x2="389.20" y2="647.80" stroke="#505050" stroke-width="1.4" stroke-linecap="round"/>
<line x1="385.65" y1="641.65" x2="392.75" y2="645.75" stroke="#505050" stroke-width="1.4" stroke-linecap="round"/>
<line x1="392.75" y1="641.65" x2="385.65" y2="645.75" stroke="#505050" stroke-width="1.4" stroke-linecap="round"/>
<line x1="417.20" y1="674.80" x2="417.20" y2="683.00" stroke="#1a1a1a" stroke-width="1.4" stroke-linecap="round"/>
<line x1="413.65" y1="676.85" x2="420.75" y2="680.95" stroke="#1a1a1a" stroke-width="1.4" stroke-linecap="round"/>
<line x1="420.75" y1="676.85" x2="413.65" y2="680.95" stroke="#1a1a1a" stroke-width="1.4" stroke-linecap="round"/>
<line x1="428.60" y1="674.80" x2="428.60" y2="683.00" stroke="#1a1a1a" stroke-width="1.4" stroke-linecap="round"/>
<line x1="425.05" y1="676.85" x2="432.15" y2="680.95" stroke="#1a1a1a" stroke-width="1.4" stroke-linecap="round"/>
<line x1="432.15" y1="676.85" x2="425.05" y2="680.95" stroke="#1a1a1a" stroke-width="1.4" stroke-linecap="round"/>
<line x1="440.00" y1="674.80" x2="440.00" y2="683.00" stroke="#1a1a1a" stroke-width="1.4" stroke-linecap="round"/>
<line x1="436.45" y1="676.85" x2="443.55" y2="680.95" stroke="#1a1a1a" stroke-width="1.4" stroke-linecap="round"/>
<line x1="443.55" y1="676.85" x2="436.45" y2="680.95" stroke="#1a1a1a" stroke-width="1.4" stroke-linecap="round"/>
<rect x="602.40" y="689.40" width="39.60" height="19.60" fill="#000"/>
<rect x="605.10" y="741.30" width="34.20" height="14.00" fill="#a0a0a0" stroke="#000" stroke-width="5.4"/>
<rect x="605.10" y="790.70" width="34.20" height="13.80" fill="#808080" stroke="#000" stroke-width="5.4"/>
<text x="663.30" y="709.00" font-family='"Liberation Sans", sans-serif' font-size="29.8" font-weight="normal" text-anchor="start" fill="#000" stroke="#000" stroke-width="0.2">EVs</text>
<text x="663.30" y="758.00" font-family='"Liberation Sans", sans-serif' font-size="29.8" font-weight="normal" text-anchor="start" fill="#000" stroke="#000" stroke-width="0.2">cfDNA</text>
<text x="663.30" y="807.00" font-family='"Liberation Sans", sans-serif' font-size="29.8" font-weight="normal" text-anchor="start" fill="#000" stroke="#000" stroke-width="0.2">EVs + cfDNA</text>
</g>
</svg>
</body></html>
